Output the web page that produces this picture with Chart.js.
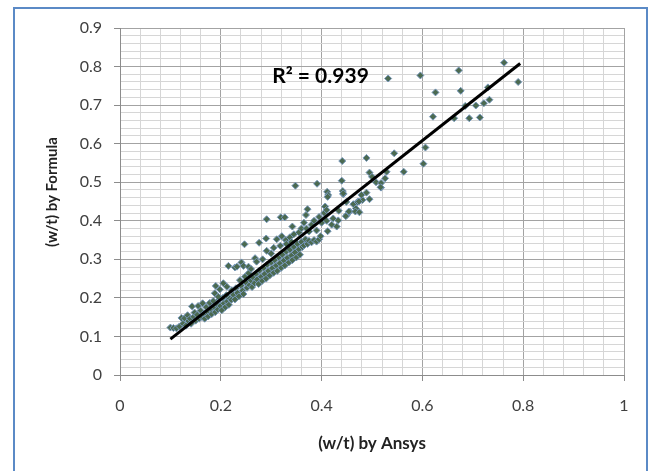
<!DOCTYPE html>
<html>
<head>
<meta charset="utf-8">
<script src="https://cdn.jsdelivr.net/npm/chart.js@4/dist/chart.umd.min.js"></script>
<style>
  html, body { margin: 0; padding: 0; background: #fff; overflow: hidden; }
  #wrap { position: relative; width: 656px; height: 471px; }
  #frame { position: absolute; left: 13px; top: 7px; width: 635px; height: 480px;
           border: 2px solid #5b8ac6; box-sizing: border-box; pointer-events: none; }
</style>
</head>
<body>
<div id="wrap">
  <canvas id="myChart" width="656" height="471"></canvas>
  <div id="frame"></div>
</div>
<script>
// (w/t) by Ansys
var ansys = [
  0.100,0.106,0.112,0.118,0.122,0.125,0.128,0.131,0.134,0.136,0.139,0.141,0.143,0.146,0.148,0.150,
  0.153,0.155,0.157,0.160,0.162,0.164,0.166,0.168,0.171,0.173,0.175,0.178,0.180,0.182,0.185,0.187,
  0.189,0.192,0.194,0.197,0.199,0.202,0.204,0.206,0.209,0.211,0.213,0.216,0.190,0.198,0.188,0.195,
  0.205,0.212,0.222,0.218,0.221,0.225,0.228,0.230,0.233,0.236,0.238,0.240,0.243,0.245,0.248,0.250,
  0.252,0.255,0.257,0.260,0.262,0.265,0.267,0.270,0.272,0.275,0.277,0.280,0.282,0.285,0.287,0.290,
  0.292,0.294,0.297,0.300,0.302,0.305,0.307,0.310,0.312,0.315,0.317,0.320,0.322,0.325,0.327,0.330,
  0.332,0.335,0.337,0.340,0.342,0.345,0.347,0.350,0.352,0.355,0.357,0.360,0.362,0.365,0.368,0.372,
  0.375,0.380,0.385,0.390,0.395,0.398,
  0.215,0.228,0.241,0.245,0.232,0.247,0.276,0.290,0.311,0.321,0.329,0.337,0.291,0.268,0.271,0.291,
  0.319,0.327,0.342,0.255,0.260,0.283,0.300,0.305,0.318,0.330,0.340,0.345,0.355,0.360,0.365,0.370,
  0.375,0.380,0.385,0.390,0.395,0.400,0.405,0.410,
  0.348,0.391,0.440,0.411,0.413,0.442,0.443,0.407,0.410,0.372,0.369,0.423,0.433,0.450,0.456,0.463,
  0.468,0.471,0.449,0.454,0.434,0.448,0.412,0.420,0.430,0.441,0.489,0.495,0.500,0.508,0.518,0.518,
  0.526,0.529,0.443,0.489,0.495,0.481,0.474,0.467,0.475,0.479,0.412,0.517,
  0.544,0.563,0.602,0.606,0.532,0.596,0.672,0.762,0.790,0.626,0.676,0.621,0.663,0.693,0.714,0.706,
  0.722,0.733,0.685,0.730
];
// (w/t) by Formula
var formula = [
  0.123,0.122,0.121,0.126,0.148,0.133,0.147,0.128,0.155,0.140,0.146,0.133,0.178,0.151,0.162,0.141,
  0.156,0.179,0.146,0.167,0.151,0.186,0.159,0.146,0.176,0.164,0.152,0.187,0.171,0.158,0.192,0.176,
  0.163,0.183,0.170,0.196,0.179,0.168,0.200,0.186,0.176,0.207,0.191,0.182,0.231,0.222,0.212,0.203,
  0.238,0.229,0.220,0.198,0.195,0.208,0.196,0.225,0.213,0.204,0.246,0.232,0.219,0.210,0.255,0.240,
  0.226,0.264,0.233,0.245,0.228,0.252,0.238,0.262,0.248,0.236,0.271,0.255,0.244,0.278,0.262,0.250,
  0.286,0.270,0.258,0.292,0.277,0.265,0.298,0.284,0.270,0.305,0.290,0.278,0.312,0.297,0.284,0.320,
  0.304,0.292,0.325,0.310,0.298,0.332,0.318,0.305,0.340,0.326,0.312,0.345,0.332,0.336,0.352,0.340,
  0.348,0.344,0.350,0.346,0.352,0.360,
  0.283,0.279,0.292,0.283,0.281,0.339,0.343,0.354,0.352,0.360,0.350,0.357,0.322,0.303,0.294,0.404,
  0.409,0.409,0.385,0.281,0.275,0.300,0.315,0.330,0.335,0.340,0.345,0.365,0.370,0.380,0.395,0.380,
  0.372,0.390,0.400,0.375,0.410,0.395,0.420,0.400,
  0.491,0.496,0.504,0.475,0.467,0.477,0.469,0.437,0.428,0.430,0.415,0.406,0.401,0.415,0.424,0.443,
  0.432,0.449,0.449,0.424,0.426,0.412,0.373,0.390,0.385,0.555,0.563,0.525,0.514,0.500,0.498,0.486,
  0.510,0.527,0.471,0.473,0.456,0.454,0.450,0.424,0.422,0.467,0.462,0.487,
  0.575,0.527,0.548,0.590,0.769,0.777,0.790,0.810,0.760,0.733,0.737,0.670,0.666,0.666,0.668,0.699,
  0.705,0.714,0.698,0.746
];
// linear trendline end points
var trendX = [0.10, 0.794];
var trendY = [0.093, 0.808];
var r2Label = "R\u00b2 = 0.939";
var r2At = [0.302, 0.774];

var xLabels = ["0", "0.2", "0.4", "0.6", "0.8", "1"];
var yLabels = ["0", "0.1", "0.2", "0.3", "0.4", "0.5", "0.6", "0.7", "0.8", "0.9"];
var xTitle = "(w/t) by Ansys";
var yTitle = "(w/t) by Formula";

var points = ansys.map(function (v, i) { return { x: v, y: formula[i] }; });
var trend = trendX.map(function (v, i) { return { x: v, y: trendY[i] }; });

var FONT = "Lato, 'Open Sans', sans-serif";

var textPlugin = {
  id: "texts",
  afterDatasetsDraw: function (chart) {
    var c = chart.ctx;
    c.save();
    c.font = "bold 21px " + FONT;
    c.fillStyle = "#000";
    c.textAlign = "left";
    c.textBaseline = "middle";
    c.fillText(r2Label, chart.scales.x.getPixelForValue(r2At[0]), chart.scales.y.getPixelForValue(r2At[1]));
    // y axis title, a bit above the plot centre like the original
    c.translate(52, 192);
    c.rotate(-Math.PI / 2);
    c.textAlign = "center";
    c.font = "bold 15px " + FONT;
    c.fillStyle = "#222";
    c.fillText(yTitle, 0, 0);
    c.restore();
  }
};

function minorTicks(n, step) {
  var t = [];
  for (var i = 0; i <= n; i++) t.push({ value: Math.round(i * step * 1000) / 1000 });
  return t;
}

var ctx = document.getElementById("myChart").getContext("2d");
var myChart = new Chart(ctx, {
  type: "scatter",
  data: {
    datasets: [{
      label: "data",
      data: points,
      pointStyle: "rectRot",
      pointRadius: 3.5,
      backgroundColor: "#4b6a50",
      borderColor: "#7797bb",
      borderWidth: 1,
      order: 2
    }, {
      type: "line",
      label: "trend",
      data: trend,
      borderColor: "#000",
      borderWidth: 3,
      pointRadius: 0,
      fill: false,
      order: 1
    }]
  },
  options: {
    responsive: false,
    animation: false,
    layout: { padding: { left: 0, top: 28, right: 32, bottom: 0 } },
    plugins: {
      legend: { display: false },
      tooltip: { enabled: false }
    },
    scales: {
      x: {
        type: "linear",
        min: 0,
        max: 1,
        afterBuildTicks: function (s) { s.ticks = minorTicks(25, 0.04); },
        afterFit: function (s) { s.height = 96; },
        ticks: {
          autoSkip: false,
          maxRotation: 0,
          padding: 15,
          color: "#404040",
          font: { family: FONT, size: 16 },
          callback: function (v, i) { return i % 5 === 0 ? xLabels[i / 5] : ""; }
        },
        grid: {
          color: function (c) { return c.index % 5 === 0 ? "#a3a3a3" : "#d6d6d6"; },
          tickColor: function (c) { return c.index % 5 === 0 ? "#8c8c8c" : "rgba(0,0,0,0)"; },
          tickLength: 6
        },
        border: { color: "#8c8c8c" },
        title: {
          display: true,
          text: xTitle,
          color: "#222",
          font: { family: FONT, size: 17, weight: "bold" },
          padding: { top: 0, bottom: 17 }
        }
      },
      y: {
        type: "linear",
        min: 0,
        max: 0.9,
        afterBuildTicks: function (s) { s.ticks = minorTicks(45, 0.02); },
        afterFit: function (s) { s.width = 120; },
        ticks: {
          autoSkip: false,
          padding: 12,
          color: "#404040",
          font: { family: FONT, size: 16 },
          callback: function (v, i) { return i % 5 === 0 ? yLabels[i / 5] : ""; }
        },
        grid: {
          color: function (c) { return c.index % 5 === 0 ? "#a3a3a3" : "#d6d6d6"; },
          tickColor: function (c) { return c.index % 5 === 0 ? "#8c8c8c" : "rgba(0,0,0,0)"; },
          tickLength: 6
        },
        border: { color: "#8c8c8c" }
      }
    }
  },
  plugins: [textPlugin]
});
</script>
</body>
</html>
